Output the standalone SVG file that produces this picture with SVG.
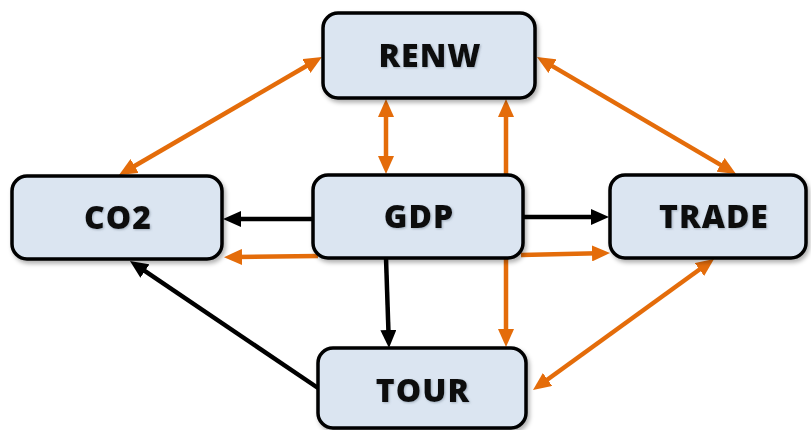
<svg xmlns="http://www.w3.org/2000/svg" width="811" height="430" viewBox="0 0 811 430">
  <style>
    .box { fill: #dbe5f1; stroke: #000; stroke-width: 3.5; filter: url(#shadow); }
    .label { font-family: "Open Sans", "Liberation Sans", sans-serif; font-weight: 800; font-size: 32px; letter-spacing: 1px; fill: #111; text-anchor: middle; filter: url(#tshadow); }
    .or { stroke: #e46c0a; stroke-width: 4.5; fill: none; }
    .bk { stroke: #000; stroke-width: 4.5; fill: none; }
    .or.two { marker-start: url(#headOr); marker-end: url(#headOr); }
    .or.one { marker-end: url(#headOr); }
    .bk.one { marker-end: url(#headBk); }
  </style>
  <defs>
    <filter id="shadow" x="-10%" y="-10%" width="130%" height="140%">
      <feDropShadow dx="2" dy="3" stdDeviation="2" flood-color="#000" flood-opacity="0.3"/>
    </filter>
    <filter id="tshadow" x="-10%" y="-20%" width="130%" height="150%">
      <feDropShadow dx="1" dy="1" stdDeviation="0.8" flood-color="#6a7a8a" flood-opacity="0.5"/>
    </filter>
    <marker id="headOr" markerUnits="userSpaceOnUse" markerWidth="18" markerHeight="16" refX="6" refY="8" orient="auto-start-reverse">
      <path d="M0,0 L18,8 L0,16 Z" fill="#e46c0a"/>
    </marker>
    <marker id="headBk" markerUnits="userSpaceOnUse" markerWidth="18" markerHeight="16" refX="6" refY="8" orient="auto-start-reverse">
      <path d="M0,0 L18,8 L0,16 Z" fill="#000"/>
    </marker>
  </defs>

  <g id="connectors">
    <!-- RENW <-> CO2 -->
    <line class="or two" x1="311.6" y1="63" x2="129.4" y2="169"/>
    <!-- RENW <-> GDP -->
    <line class="or two" x1="386" y1="111" x2="386" y2="162"/>
    <!-- RENW <-> TOUR (passes behind GDP) -->
    <line class="or two" x1="506" y1="111" x2="506" y2="335"/>
    <!-- RENW <-> TRADE -->
    <line class="or two" x1="547.3" y1="63.1" x2="725.7" y2="167.9"/>
    <!-- GDP -> CO2 -->
    <line class="bk one" x1="313" y1="219" x2="235" y2="219"/>
    <line class="or one" x1="318" y1="256" x2="236" y2="257"/>
    <!-- GDP -> TRADE -->
    <line class="bk one" x1="523" y1="217" x2="597" y2="217"/>
    <line class="or one" x1="521" y1="255" x2="598" y2="253.3"/>
    <!-- GDP -> TOUR -->
    <line class="bk one" x1="386" y1="258" x2="388.6" y2="336"/>
    <!-- TOUR -> CO2 -->
    <line class="bk one" x1="318" y1="388" x2="139.9" y2="267.7"/>
    <!-- TRADE <-> TOUR -->
    <line class="or two" x1="704.3" y1="266" x2="542.7" y2="383"/>
  </g>

  <g id="RENW">
    <rect class="box" x="323" y="13" width="212" height="85" rx="15"/>
    <text class="label" x="430" y="67">RENW</text>
  </g>
  <g id="CO2">
    <rect class="box" x="12" y="176" width="210" height="83" rx="15"/>
    <text class="label" x="118" y="229">CO2</text>
  </g>
  <g id="GDP">
    <rect class="box" x="313" y="175" width="210" height="83" rx="15"/>
    <text class="label" x="419" y="228">GDP</text>
  </g>
  <g id="TRADE">
    <rect class="box" x="610" y="175" width="196" height="83" rx="15"/>
    <text class="label" x="714" y="228">TRADE</text>
  </g>
  <g id="TOUR">
    <rect class="box" x="318" y="348" width="208" height="80" rx="15"/>
    <text class="label" x="423" y="402">TOUR</text>
  </g>
</svg>
